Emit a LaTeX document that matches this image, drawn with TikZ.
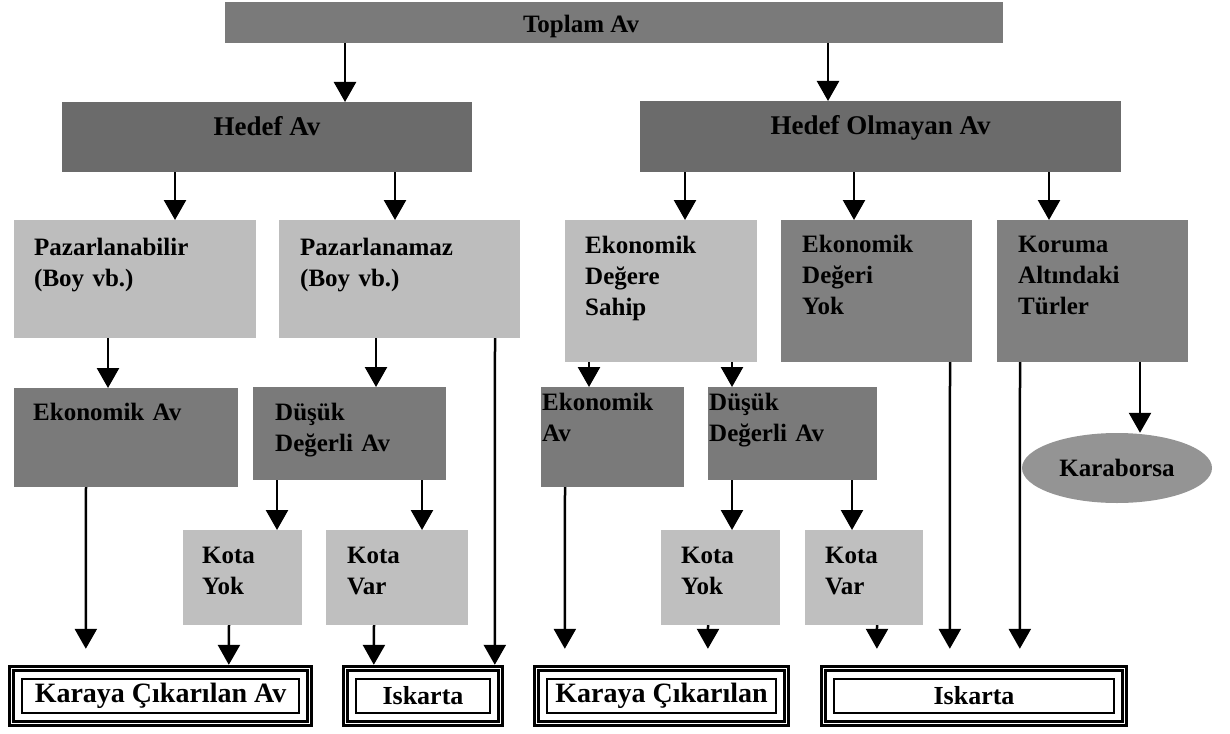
\documentclass[tikz,border=0pt]{standalone}
\usepackage{fontspec}
\setmainfont{Liberation Serif}
\usetikzlibrary{arrows.meta,shapes.geometric}

\begin{document}
\begin{tikzpicture}[x=1pt,y=-1pt]

    \tikzset{
      kutu/.style={inner sep=0pt, outer sep=0pt, anchor=north west},
      yazi/.style={inner sep=0pt, anchor=base west, align=left, text width=220pt,
        font=\fontsize{25}{31}\selectfont\bfseries},
      baslik/.style={inner sep=0pt, text height=17pt, text depth=20pt,
        font=\fontsize{27}{30}\selectfont\bfseries},
      sonuc/.style={draw, line width=3.2pt, double=white, double distance=1pt,
        fill=white, minimum height=55pt, inner sep=0pt, outer sep=3.7pt,
        font=\fontsize{28}{30}\selectfont\bfseries},
      pil/.style={line width=2.5pt, -{Triangle[length=20pt,width=22pt]}},
    }
    \useasboundingbox (0,0) rectangle (1230,733);

    % ust seviyeler
    \node[kutu, fill=black!52, minimum width=778pt, minimum height=41pt] (toplam) at (225,2) {};
    \node[inner sep=0pt, anchor=base, font=\fontsize{25}{30}\selectfont\bfseries] (toplamy) at (581,33) {Toplam Av};
    \node[kutu, baslik, fill=black!58, minimum width=410pt, minimum height=70pt] (hedef) at (62,102) {Hedef Av};
    \node[kutu, baslik, fill=black!58, minimum width=481pt, minimum height=71pt] (olmayan) at (640,101) {Hedef Olmayan Av};

    \node[kutu, fill=black!26, minimum width=242pt, minimum height=118pt] (pzb) at (14,220) {};
    \node[yazi] (pzby) at ([shift={(20pt,-35pt)}]pzb.north west) {Pazarlanabilir\\(Boy vb.)};
    \node[kutu, fill=black!26, minimum width=241pt, minimum height=118pt] (pzm) at (279,220) {};
    \node[yazi] (pzmy) at ([shift={(21pt,-35pt)}]pzm.north west) {Pazarlanamaz\\(Boy vb.)};
    \node[kutu, fill=black!26, minimum width=192pt, minimum height=142pt] (eds) at (565,220) {};
    \node[yazi] (edsy) at ([shift={(20pt,-33pt)}]eds.north west) {Ekonomik\\Değere\\Sahip};
    \node[kutu, fill=black!50, minimum width=191pt, minimum height=142pt] (edy) at (781,220) {};
    \node[yazi] (edyy) at ([shift={(21pt,-32pt)}]edy.north west) {Ekonomik\\Değeri\\Yok};
    \node[kutu, fill=black!50, minimum width=191pt, minimum height=142pt] (koruma) at (997,220) {};
    \node[yazi] (korumay) at ([shift={(21pt,-32pt)}]koruma.north west) {Koruma\\Altındaki\\Türler};

    % ekonomik / dusuk degerli
    \node[kutu, fill=black!52, minimum width=224pt, minimum height=99pt] (ea1) at (14,388) {};
    \node[yazi] (ea1y) at ([shift={(19pt,-32pt)}]ea1.north west) {Ekonomik Av};
    \node[kutu, fill=black!52, minimum width=193pt, minimum height=93pt] (dd1) at (253,387) {};
    \node[yazi] (dd1y) at ([shift={(22pt,-33pt)}]dd1.north west) {Düşük\\Değerli Av};
    \node[kutu, fill=black!52, minimum width=143pt, minimum height=100pt] (ea2) at (541,387) {};
    \node[yazi] (ea2y) at ([shift={(1pt,-23pt)}]ea2.north west) {Ekonomik\\Av};
    \node[kutu, fill=black!52, minimum width=169pt, minimum height=93pt] (dd2) at (708,387) {};
    \node[yazi] (dd2y) at ([shift={(1pt,-23pt)}]dd2.north west) {Düşük\\Değerli Av};

    % kota
    \node[kutu, fill=black!25, minimum width=119pt, minimum height=95pt] (ky1) at (183,530) {};
    \node[yazi] (ky1y) at ([shift={(19pt,-33pt)}]ky1.north west) {Kota\\Yok};
    \node[kutu, fill=black!25, minimum width=142pt, minimum height=95pt] (kv1) at (326,530) {};
    \node[yazi] (kv1y) at ([shift={(21pt,-33pt)}]kv1.north west) {Kota\\Var};
    \node[kutu, fill=black!25, minimum width=119pt, minimum height=95pt] (ky2) at (661,530) {};
    \node[yazi] (ky2y) at ([shift={(20pt,-33pt)}]ky2.north west) {Kota\\Yok};
    \node[kutu, fill=black!25, minimum width=118pt, minimum height=95pt] (kv2) at (805,530) {};
    \node[yazi] (kv2y) at ([shift={(20pt,-33pt)}]kv2.north west) {Kota\\Var};

    \node[ellipse, fill=black!42, minimum width=190pt, minimum height=70pt, inner sep=0pt,
      font=\fontsize{25}{30}\selectfont\bfseries] (karaborsa) at (1117,468) {Karaborsa};

    % sonuclar
    \node[sonuc, minimum width=298pt] (kara1) at (160.5,696) {Karaya Çıkarılan Av};
    \node[sonuc, minimum width=155pt, font=\fontsize{26}{30}\selectfont\bfseries] (iskarta1) at (423,696) {Iskarta};
    \node[sonuc, minimum width=250pt] (kara2) at (661.5,696) {Karaya Çıkarılan};
    \node[sonuc, minimum width=301pt, font=\fontsize{26}{30}\selectfont\bfseries] (iskarta2) at (974,696) {Iskarta};
    \foreach \n in {kara1,iskarta1,kara2,iskarta2}
      \draw[line width=1.5pt] ([shift={(14pt,14pt)}]\n.south west) rectangle ([shift={(-14pt,-14pt)}]\n.north east);

    % oklar
    \foreach \a/\sa/\b/\sb in {toplam/120/hedef/283, toplam/603/olmayan/188,
        hedef/113/pzb/161, hedef/333/pzm/116,
        olmayan/45/eds/120, olmayan/214/edy/73, olmayan/409/koruma/52,
        pzb/94/ea1/94, pzm/97/dd1/123, eds/24/ea2/48, eds/167/dd2/24,
        dd1/24/ky1/94, dd1/169/kv1/96, dd2/24/ky2/71, dd2/144/kv2/47,
        ky1/46/kara1/221, kv1/48/iskarta1/32, pzm/216/iskarta1/153}
      \draw[pil] ([xshift=\sa pt]\a.south west) -- ([xshift=\sb pt]\b.north west);
    \foreach \a/\sa/\b/\sb in {ea1/72/kara1/78, ea2/24/kara2/32, ky2/47/kara2/175,
        kv2/72/iskarta2/57, edy/169/iskarta2/130, koruma/23/iskarta2/200}
      \draw[pil, shorten >=16pt] ([xshift=\sa pt]\a.south west) -- ([xshift=\sb pt]\b.north west);
    \draw[pil] ([xshift=143pt]koruma.south west) -- ([xshift=23pt]karaborsa.north);

\end{tikzpicture}
\end{document}
